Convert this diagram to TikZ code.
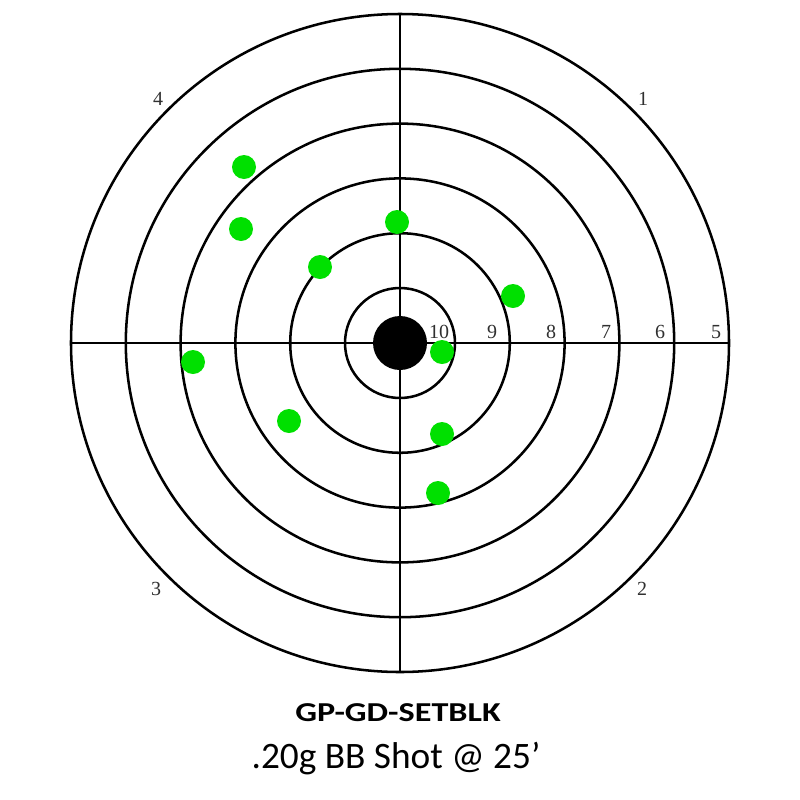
\documentclass[tikz,border=0pt]{standalone}
\usepackage{fontspec}
\setmainfont{Liberation Serif}
\newfontfamily\capfont{Carlito}
\definecolor{shot}{HTML}{00E000}
\definecolor{lbl}{HTML}{303030}
\tikzset{
  ring/.style={line width=1.9pt, black},
  axis/.style={line width=2.2pt, black},
  hit/.style={circle, fill=shot, minimum size=24*0.75pt, inner sep=0pt},
  ringlbl/.style={anchor=base, font=\fontsize{15}{17}\selectfont, text=lbl, inner sep=0pt},
  quadlbl/.style={anchor=center, font=\fontsize{15}{17}\selectfont, text=lbl, inner sep=0pt},
}
\begin{document}
\begin{tikzpicture}[x=0.75pt,y=-0.75pt]
\useasboundingbox (0,0) rectangle (800,800);
\coordinate (c) at (400,343);
\foreach \r in {55,109.8,164.6,219.4,274.2,329} {
  \draw[ring] (c) circle[radius=\r];
}
\coordinate (top) at (400,14);
\coordinate (bot) at (400,672);
\coordinate (lft) at (71,343);
\coordinate (rgt) at (729,343);
\draw[axis] (top) -- (bot);
\draw[axis] (lft) -- (rgt);
\fill[black] (c) circle[radius=27];
% ring labels
\node[ringlbl] (l10) at (439,338) {10};
\node[ringlbl] (l9) at (492,338) {9};
\node[ringlbl] (l8) at (551,338) {8};
\node[ringlbl] (l7) at (606,338) {7};
\node[ringlbl] (l6) at (660,338) {6};
\node[ringlbl] (l5) at (716,338) {5};
% quadrant labels
\node[quadlbl] (q4) at (158,99) {4};
\node[quadlbl] (q1) at (643,99) {1};
\node[quadlbl] (q3) at (156,589) {3};
\node[quadlbl] (q2) at (642,589) {2};
% hits
\node[hit] (h1) at (244,167) {};
\node[hit] (h2) at (241,229) {};
\node[hit] (h3) at (397,222) {};
\node[hit] (h4) at (320,267) {};
\node[hit] (h5) at (513,296) {};
\node[hit] (h6) at (442,352) {};
\node[hit] (h7) at (193,362) {};
\node[hit] (h8) at (289,421) {};
\node[hit] (h9) at (442,434) {};
\node[hit] (h10) at (438,493) {};
% captions
\node[anchor=base, font=\capfont\bfseries\fontsize{20.5}{23}\selectfont, inner sep=0pt] (t1) at (398,721) {\scalebox{1.25}[1]{GP-GD-SETBLK}};
\node[anchor=base, font=\capfont\fontsize{28}{31}\selectfont, inner sep=0pt] (t2) at (396,768) {.20g BB Shot @ 25’};
\end{tikzpicture}
\end{document}
